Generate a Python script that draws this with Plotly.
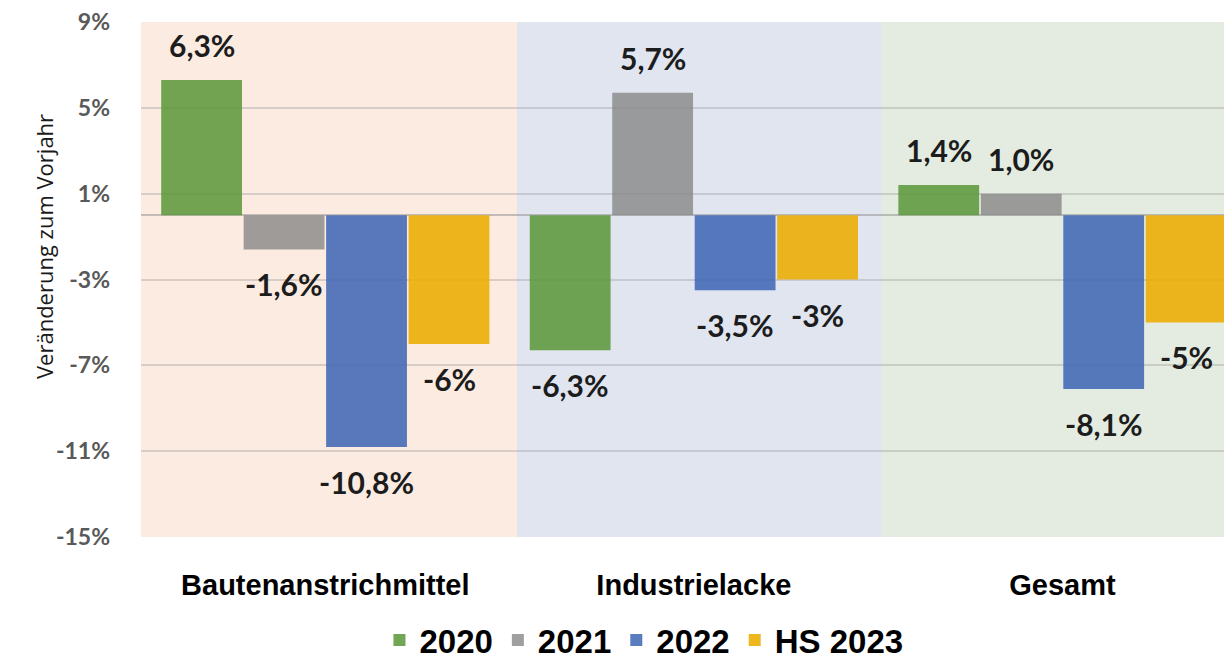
import plotly.graph_objects as go

categories = ["Bautenanstrichmittel", "Industrielacke", "Gesamt"]
series_names = ["2020", "2021", "2022", "HS 2023"]
values_2020 = [6.3, -6.3, 1.4]
values_2021 = [-1.6, 5.7, 1.0]
values_2022 = [-10.8, -3.5, -8.1]
values_hs2023 = [-6.0, -3.0, -5.0]
labels_2020 = ["6,3%", "-6,3%", "1,4%"]
labels_2021 = ["-1,6%", "5,7%", "1,0%"]
labels_2022 = ["-10,8%", "-3,5%", "-8,1%"]
labels_hs2023 = ["-6%", "-3%", "-5%"]
y_tick_values = [-15, -11, -7, -3, 1, 5, 9]
y_tick_labels = ["-15%", "-11%", "-7%", "-3%", "1%", "5%", "9%"]

all_values = [values_2020, values_2021, values_2022, values_hs2023]
all_labels = [labels_2020, labels_2021, labels_2022, labels_hs2023]
colors = ["rgba(88,150,55,0.85)", "rgba(135,135,135,0.8)", "rgba(60,100,180,0.85)", "rgba(236,172,0,0.88)"]

fig = go.Figure()
for name, vals, col in zip(series_names, all_values, colors):
    fig.add_trace(go.Bar(x=categories, y=vals, name=name,
                         marker=dict(color=col, line=dict(width=0))))

# value labels
slot_px = 82.5
for i, (vals, labs) in enumerate(zip(all_values, all_labels)):
    for cat, v, t in zip(categories, vals, labs):
        fig.add_annotation(x=cat, y=v, text=t, showarrow=False,
                           xshift=(i - 1.5) * slot_px,
                           yshift=35 if v > 0 else -35,
                           yanchor="middle",
                           font=dict(family="Lato, sans-serif", size=30, color="#1c1c1c", weight="bold"))

# background regions
bg = [(-0.5, 0.52, "#FBEBE1"), (0.52, 1.51, "#E0E5F0"), (1.51, 2.6, "#E4ECE1")]
for x0, x1, c in bg:
    fig.add_shape(type="rect", xref="x", yref="paper", x0=x0, x1=x1, y0=0, y1=1,
                  fillcolor=c, line=dict(width=0), layer="below")

fig.add_annotation(xref="paper", yref="paper", x=-0.1045, y=0.565,
                   text="Veränderung zum Vorjahr", textangle=-90, showarrow=False,
                   font=dict(family="Open Sans, sans-serif", size=22, color="#1a1a1a"))

fig.update_layout(
    width=1224, height=654,
    margin=dict(l=133, r=0, t=14, b=125, autoexpand=False),
    paper_bgcolor="white", plot_bgcolor="white",
    barmode="group", bargap=0.105, bargroupgap=0.02,
    showlegend=True,
    legend=dict(orientation="h", x=0.461, xanchor="center", y=-0.2, yanchor="middle",
                font=dict(family="Liberation Sans Narrow, Arial Narrow, Liberation Sans, sans-serif", size=33,
                          color="black", weight="bold"),
                itemwidth=30, bgcolor="rgba(0,0,0,0)"),
    xaxis=dict(range=[-0.5, 2.46], showgrid=False, zeroline=False, showline=False,
               ticks="", ticklabelstandoff=28,
               tickfont=dict(family="Liberation Sans, sans-serif", size=29,
                             color="black", weight="bold")),
    yaxis=dict(range=[-15, 9], tickvals=y_tick_values, ticktext=y_tick_labels,
               showgrid=True, gridcolor="rgba(150,150,150,0.35)", gridwidth=2,
               zeroline=True, zerolinecolor="rgba(140,140,140,0.5)", zerolinewidth=2,
               showline=False, ticks="", ticklabelstandoff=30, ticklabeloverflow="allow",
               tickfont=dict(family="Lato, sans-serif", size=23, color="#595959", weight="bold")),
)

fig.write_html("out.html")
